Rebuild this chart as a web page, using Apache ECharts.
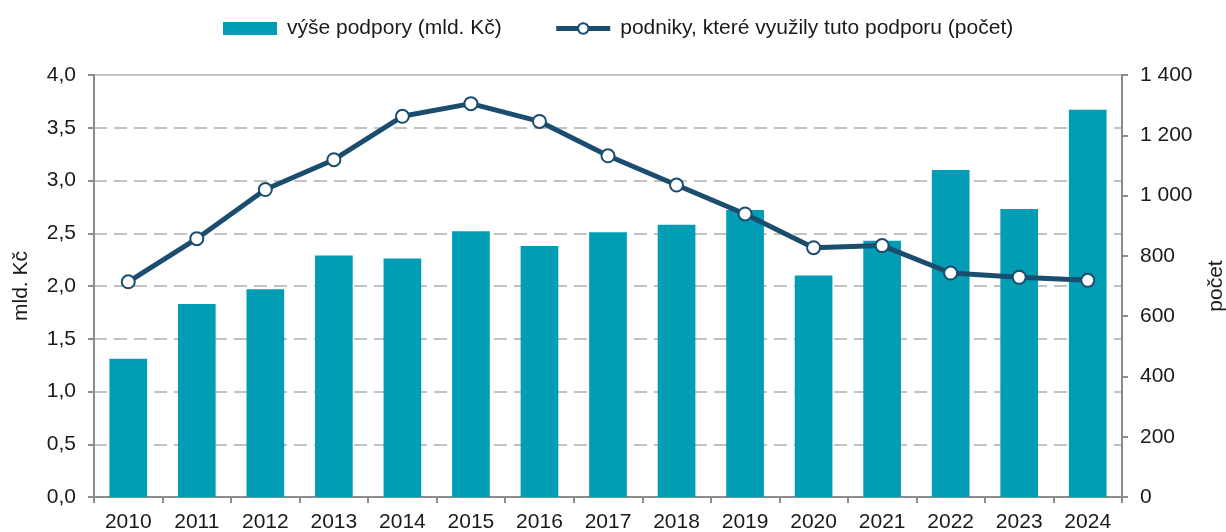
<!DOCTYPE html>
<html>
<head>
<meta charset="utf-8">
<script src="https://cdn.jsdelivr.net/npm/echarts@6/dist/echarts.min.js"></script>
<style>
    html, body { margin: 0; padding: 0; background: #fff; }
    #container { width: 1226px; height: 532px; }
</style>
</head>
<body>
<div id="container"></div>
<script>
var years = ['2010', '2011', '2012', '2013', '2014', '2015', '2016', '2017', '2018', '2019', '2020', '2021', '2022', '2023', '2024'];
// výše podpory, mld. Kč
var support = [1.31, 1.83, 1.97, 2.29, 2.26, 2.52, 2.38, 2.51, 2.58, 2.72, 2.10, 2.43, 3.10, 2.73, 3.67];
// počet podniků
var companies = [714, 857, 1020, 1119, 1263, 1305, 1246, 1132, 1035, 939, 827, 834, 743, 729, 719];

var font = 'Liberation Sans, Arial, sans-serif';
var axisGrey = '#8c8c8c';
var barColor = '#009db5';
var lineColor = '#1b4d6e';

var dom = document.getElementById("container");
var myChart = echarts.init(dom);

function czNum(v) {
    return String(v).replace(/\B(?=(\d{3})+(?!\d))/g, ' ');
}

var option = {
    animation: false,
    textStyle: { fontFamily: font },
    legend: {
        top: 13,
        left: 218,
        itemWidth: 54,
        itemHeight: 13,
        itemGap: 52,
        textStyle: { fontSize: 21, color: '#1a1a1a', fontFamily: font, padding: [0, 0, 0, 5] },
        data: [
            { name: 'výše podpory (mld. Kč)', icon: 'rect' },
            { name: 'podniky, které využily tuto podporu (počet)', lineStyle: { width: 5, color: lineColor } }
        ]
    },
    grid: {
        left: 94,
        right: 104,
        top: 75,
        bottom: 35,
        outerBoundsMode: 'none',
        containLabel: false,
        show: true,
        borderColor: '#c3c3c3',
        borderWidth: 2
    },
    xAxis: {
        type: 'category',
        data: years,
        axisLine: { lineStyle: { color: axisGrey, width: 2 } },
        axisTick: { show: true, length: 6, lineStyle: { color: axisGrey, width: 2 } },
        axisLabel: { color: '#1a1a1a', fontSize: 21, margin: 15, fontFamily: font }
    },
    yAxis: [
        {
            type: 'value',
            min: 0,
            max: 4,
            interval: 0.5,
            name: 'mld. Kč',
            nameLocation: 'middle',
            nameRotate: 90,
            nameGap: 62,
            nameTextStyle: { fontSize: 21, color: '#1a1a1a', fontFamily: font },
            axisLine: { show: true, lineStyle: { color: axisGrey, width: 2 } },
            axisTick: { show: true, length: 6, lineStyle: { color: axisGrey, width: 2 } },
            axisLabel: {
                color: '#1a1a1a', fontSize: 21, margin: 18, fontFamily: font,
                formatter: function (v) { return v.toFixed(1).replace('.', ','); }
            },
            splitLine: { show: true, lineStyle: { color: '#c3c3c3', width: 2, type: [13, 7] } }
        },
        {
            type: 'value',
            min: 0,
            max: 1400,
            interval: 200,
            name: 'počet',
            nameLocation: 'middle',
            nameRotate: 90,
            nameGap: 84,
            nameTextStyle: { fontSize: 21, color: '#1a1a1a', fontFamily: font },
            axisLine: { show: true, lineStyle: { color: axisGrey, width: 2 } },
            axisTick: { show: true, length: 6, lineStyle: { color: axisGrey, width: 2 } },
            axisLabel: {
                color: '#1a1a1a', fontSize: 21, margin: 18, fontFamily: font,
                formatter: function (v) { return czNum(v); }
            },
            splitLine: { show: false }
        }
    ],
    series: [
        {
            name: 'výše podpory (mld. Kč)',
            type: 'bar',
            yAxisIndex: 0,
            barWidth: '55%',
            itemStyle: { color: barColor },
            data: support
        },
        {
            name: 'podniky, které využily tuto podporu (počet)',
            type: 'line',
            yAxisIndex: 1,
            symbol: 'circle',
            symbolSize: 13,
            lineStyle: { color: lineColor, width: 5 },
            itemStyle: { color: '#ffffff', borderColor: lineColor, borderWidth: 2 },
            data: companies
        }
    ]
};

myChart.setOption(option);
</script>
</body>
</html>
